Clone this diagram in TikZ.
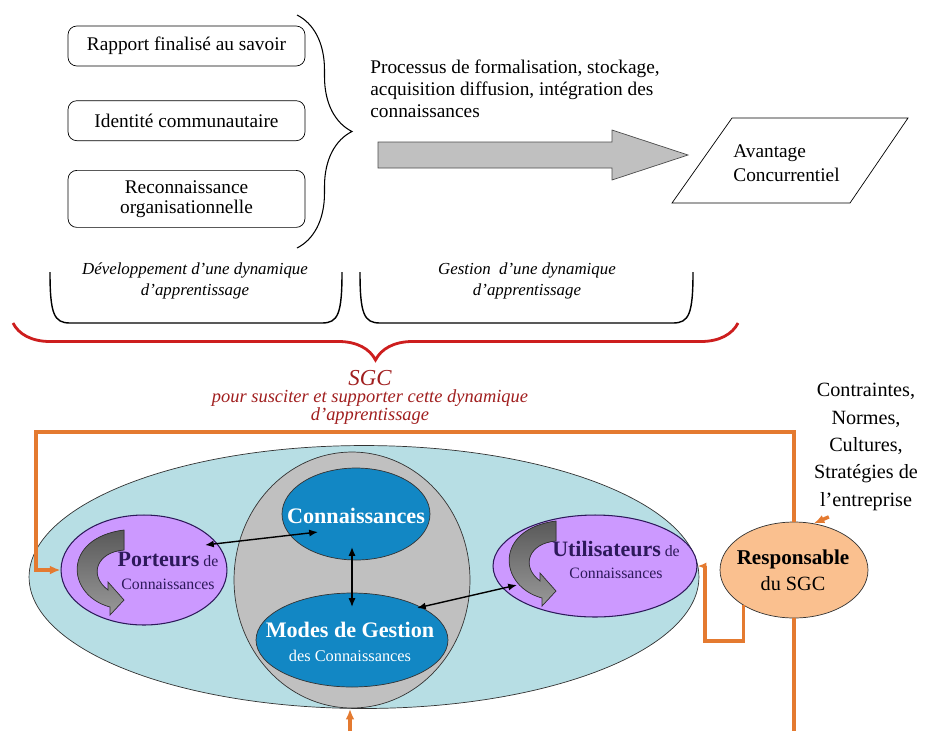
\documentclass[tikz,border=0pt]{standalone}
\usepackage{fontspec}
\setmainfont{Liberation Serif}
\usetikzlibrary{positioning,shapes.geometric,decorations.pathreplacing,arrows.meta,calc}

\definecolor{paleteal}{RGB}{183,222,228}
\definecolor{coregray}{RGB}{192,192,192}
\definecolor{knowblue}{RGB}{18,135,196}
\definecolor{lilac}{RGB}{204,153,255}
\definecolor{peach}{RGB}{250,192,143}
\definecolor{looporange}{RGB}{228,122,48}
\definecolor{bracered}{RGB}{205,30,30}
\definecolor{sgcred}{RGB}{160,30,30}
\definecolor{inknavy}{RGB}{45,25,90}

\tikzset{
  factor/.style={draw, rounded corners=5pt, minimum width=4.74cm, align=center,
    font=\fontsize{11}{11.5}\selectfont},
  phase/.style={align=center, font=\itshape\fontsize{9.6}{12}\selectfont},
  zone/.style={draw=black!80, ellipse, inner sep=0pt},
  loopline/.style={draw=looporange, line width=2pt},
  curl/.pic={
    \filldraw[draw=black!80, top color=black!65, bottom color=black!40]
      (0,0) -- (0,20) .. controls (-27,22) and (-36,45) .. (-16,60)
      -- (-16,52) -- (0,70) -- (-14,85) -- (-14,77)
      .. controls (-58,65) and (-62,8) .. (0,0) -- cycle;
  },
}

\begin{document}
\begin{tikzpicture}[x=0.02cm, y=-0.02cm, >={Latex[length=5pt,width=4pt]}]
    \useasboundingbox (0,0) rectangle (929,731);

    % facteurs de la dynamique
    \node[factor, minimum height=0.8cm] (rapport) at (186.5,46) {Rapport finalisé au savoir};
    \node[factor, minimum height=0.8cm, below=0.68cm of rapport] (identite) {Identité communautaire};
    \node[factor, minimum height=1.14cm, below=0.58cm of identite] (reconn) {Reconnaissance\\organisationnelle};
    \draw[decorate, decoration={brace, amplitude=1.1cm}, semithick] (297,15) -- (297,248);

    \node[anchor=west, align=left, inner sep=0pt, font=\fontsize{11}{12.5}\selectfont] (proctxt) at (370,89)
        {Processus de formalisation, stockage,\\acquisition diffusion, intégration des\\connaissances};
    \draw[fill=coregray, draw=black!70] (378,142) -- (612,142) -- (612,130) -- (688,155) -- (612,180) -- (612,168) -- (378,168) -- cycle;
    \node[anchor=west, align=left, inner sep=0pt, font=\fontsize{11}{13.6}\selectfont] (avant) at (733,163) {Avantage\\Concurrentiel};
    \draw[thin] (732,118) -- (908,118) -- (850,203) -- (672,203) -- cycle;

    % phases
    \draw[thick] (50,272) .. controls (50,314) and (54,323) .. (70,323) -- (322,323) .. controls (338,323) and (342,314) .. (342,272);
    \draw[thick] (360,272) .. controls (360,314) and (364,323) .. (380,323) -- (673,323) .. controls (689,323) and (693,314) .. (693,272);
    \node[phase] (devtxt) at (195,281) {Développement d'une dynamique\\d'apprentissage};
    \node[phase] (gesttxt) at (527,281) {Gestion\ \ d'une dynamique\\d'apprentissage};
    \draw[decorate, decoration={brace, mirror, amplitude=0.74cm}, bracered, line width=1.6pt] (13,323) -- (738,323);
    \node[text=sgcred, inner sep=1pt, font=\itshape\fontsize{13}{14}\selectfont] (sgc) at (370,378) {SGC};
    \node[align=center, text=sgcred, inner sep=1pt, font=\itshape\fontsize{10.5}{9}\selectfont] (sgcnote) at (370,407)
        {pour susciter et supporter cette dynamique\\d'apprentissage};

    \node[align=center, font=\fontsize{11.5}{15.6}\selectfont] (contr) at (866,447)
        {Contraintes,\\Normes,\\Cultures,\\Stratégies de\\l'entreprise};

    % systeme
    \node[zone, fill=paleteal, minimum width=13.4cm, minimum height=5.26cm] (sys) at (364,577) {};
    \node[zone, fill=coregray, minimum width=4.72cm, minimum height=5.12cm] (core) at (352,580) {};
    \node[zone, fill=knowblue, minimum width=2.96cm, minimum height=1.84cm] (conn) at (356,514) {};
    \node[zone, fill=knowblue, minimum width=3.84cm, minimum height=1.88cm] (modes) at (352,640) {};
    \node[zone, draw=inknavy, semithick, fill=lilac, minimum width=3.32cm, minimum height=2.2cm] (porteurs) at (144,570) {};
    \node[zone, draw=inknavy, semithick, fill=lilac, minimum width=4.08cm, minimum height=2.04cm] (util) at (595,566) {};
    \pic at (124,530) {curl};
    \pic at (556,521) {curl};

    \node[text=white, font=\bfseries\fontsize{12.6}{14}\selectfont] (conntxt) at (356,516) {Connaissances};
    \node[align=center, text=white, font=\fontsize{9.3}{13.6}\selectfont] (modestxt) at (350,642)
        {{\bfseries\fontsize{12.6}{13.6}\selectfont Modes de Gestion}\\des Connaissances};
    \node[align=center, text=inknavy, font=\fontsize{9}{13}\selectfont] (porttxt) at (168,571)
        {{\bfseries\fontsize{12.5}{13}\selectfont Porteurs} de\\Connaissances};
    \node[align=center, text=inknavy, font=\fontsize{9}{13}\selectfont] (utiltxt) at (616,560)
        {{\bfseries\fontsize{12.5}{13}\selectfont Utilisateurs} de\\Connaissances};

    \draw[<->, thick] ($(porteurs.center)+(61,-25)$) -- ($(conn.center)+(-38,18)$);
    \draw[<->, thick] ($(conn.center)+(-4,33)$) -- ($(modes.center)+(0,-33)$);
    \draw[<->, thick] ($(modes.center)+(65,-32)$) -- ($(util.center)+(-78,19)$);

    % boucle du responsable
    \node[zone, fill=peach, minimum width=2.96cm, minimum height=1.92cm] (resp) at (794,570) {};
    \node[align=center, font=\fontsize{11.5}{14.7}\selectfont] (resptxt) at (793,570)
        {{\bfseries\fontsize{12}{14.7}\selectfont Responsable}\\du SGC};
    \coordinate (sysin) at (350,731);
    \draw[loopline, -{Latex[length=6pt,width=5pt]}] (resp.north) |- (36,432) |- (porteurs.west);
    \draw[loopline] (resp.south) -- (resp.south |- sysin);
    \draw[loopline, -{Latex[length=6pt,width=5pt]}] (sysin) -- (sysin |- sys.south);
    \draw[loopline, -{Latex[length=5pt,width=4pt]}] (resp.-145) |- (705,641) |- (util.east);
    \draw[loopline, -{Latex[length=6pt,width=5pt]}] (contr.-118) -- (resp.67);

\end{tikzpicture}
\end{document}
